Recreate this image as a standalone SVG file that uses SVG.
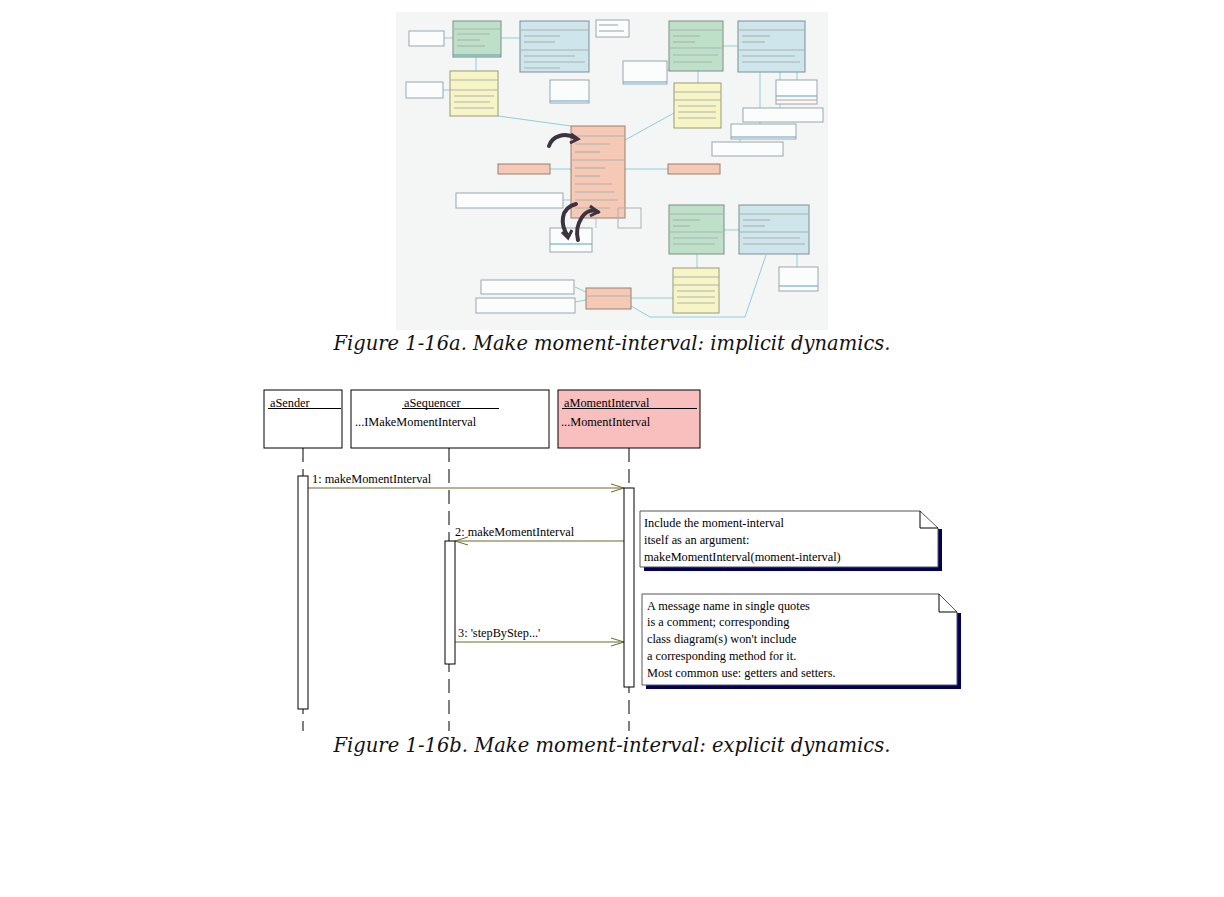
<svg xmlns="http://www.w3.org/2000/svg" width="1224" height="897" viewBox="0 0 1224 897">
<style>
.t{font-family:"Liberation Serif",serif;font-size:12.3px;fill:#000}
.cap{font-family:"DejaVu Serif","Liberation Serif",serif;font-style:italic;font-size:20px;fill:#111}
.obj{fill:#fff;stroke:#000;stroke-width:1}
.life{stroke:#000;stroke-width:1;stroke-dasharray:14,7}
.act{fill:#fff;stroke:#000;stroke-width:1}
.msg{stroke:#6b6b2a;stroke-width:1;fill:none}
.note{fill:#fff;stroke:#555;stroke-width:1}
.shadow{fill:#00005a}
.g{fill:#bfe0c8;stroke:#7a8f88}
.b{fill:#cfe5ec;stroke:#7a8f98}
.y{fill:#f7f5c6;stroke:#9a9a78}
.p{fill:#f5c9b5;stroke:#9a8070}
.n{fill:#fbfcfc;stroke:#9aa8ae}
.row{stroke:#a9b4b0;stroke-width:1.2}
.cl{stroke:#8fcfd6;stroke-width:1;fill:none}
</style>
<defs>
<marker id="open" markerWidth="14" markerHeight="10" refX="13" refY="5" orient="auto" markerUnits="userSpaceOnUse">
<path d="M0,1 L13,5 L0,9" fill="none" stroke="#6b6b2a" stroke-width="1"/>
</marker>
</defs>
<rect width="1224" height="897" fill="#fff"/>

<g id="fig-a">
<rect x="396" y="12" width="432" height="318" fill="#f4f5f5"/>
<g class="cl">
<line x1="501" y1="38" x2="520" y2="38"/>
<line x1="476" y1="57" x2="476" y2="71"/>
<line x1="498" y1="116" x2="571" y2="126"/>
<line x1="625" y1="140" x2="674" y2="113"/>
<line x1="550" y1="169" x2="571" y2="169"/>
<line x1="625" y1="169" x2="668" y2="169"/>
<line x1="698" y1="71" x2="698" y2="83"/>
<line x1="723" y1="46" x2="738" y2="46"/>
<line x1="797" y1="72" x2="797" y2="80"/>
<line x1="596" y1="218" x2="596" y2="228"/>
<line x1="724" y1="230" x2="739" y2="230"/>
<line x1="697" y1="254" x2="697" y2="268"/>
<line x1="797" y1="254" x2="797" y2="267"/>
<line x1="631" y1="298" x2="673" y2="298"/>
<polyline points="631,306 650,317 745,317 766,255"/>
<line x1="575" y1="287" x2="586" y2="292"/>
<line x1="575" y1="302" x2="586" y2="300"/>
<line x1="444" y1="38" x2="453" y2="38"/>
<line x1="443" y1="90" x2="450" y2="90"/>
<line x1="563" y1="200" x2="571" y2="200"/>
<line x1="667" y1="70" x2="669" y2="70"/>
<line x1="780" y1="72" x2="780" y2="108"/>
<line x1="760" y1="72" x2="760" y2="124"/>
<line x1="740" y1="128" x2="740" y2="142"/>
</g>
<rect class="n" x="409" y="31" width="35" height="15"/>
<rect class="g" x="453" y="21" width="48" height="36"/>
<line class="row" x1="453" y1="29" x2="501" y2="29"/>
<line class="row" x1="457" y1="34" x2="490" y2="34"/><line class="row" x1="457" y1="40" x2="480" y2="40"/><line class="row" x1="457" y1="46" x2="485" y2="46"/><line x1="453" y1="55" x2="501" y2="55" stroke="#5aa0c8"/>
<rect class="b" x="520" y="21" width="69" height="51"/>
<line class="row" x1="520" y1="30" x2="589" y2="30"/><line class="row" x1="520" y1="50" x2="589" y2="50"/>
<line class="row" x1="524" y1="36" x2="560" y2="36"/><line class="row" x1="524" y1="42" x2="555" y2="42"/><line class="row" x1="524" y1="56" x2="575" y2="56"/><line class="row" x1="524" y1="62" x2="585" y2="62"/><line class="row" x1="524" y1="68" x2="560" y2="68"/>
<rect class="n" x="596" y="20" width="33" height="17"/>
<line class="row" x1="599" y1="25" x2="618" y2="25"/><line class="row" x1="599" y1="31" x2="624" y2="31"/>
<rect class="n" x="406" y="82" width="37" height="16"/>
<rect class="y" x="450" y="71" width="48" height="45"/>
<line class="row" x1="450" y1="80" x2="498" y2="80"/><line class="row" x1="450" y1="90" x2="498" y2="90"/>
<line class="row" x1="454" y1="96" x2="494" y2="96"/><line class="row" x1="454" y1="102" x2="490" y2="102"/><line class="row" x1="454" y1="108" x2="494" y2="108"/>
<rect class="n" x="550" y="80" width="39" height="23"/>
<line x1="550" y1="101" x2="589" y2="101" stroke="#5aa0c8"/>
<rect class="g" x="669" y="21" width="54" height="50"/>
<line class="row" x1="669" y1="30" x2="723" y2="30"/><line class="row" x1="669" y1="48" x2="723" y2="48"/>
<line class="row" x1="673" y1="36" x2="700" y2="36"/><line class="row" x1="673" y1="42" x2="695" y2="42"/><line class="row" x1="673" y1="55" x2="718" y2="55"/><line class="row" x1="673" y1="62" x2="712" y2="62"/>
<rect class="b" x="738" y="21" width="67" height="51"/>
<line class="row" x1="738" y1="30" x2="805" y2="30"/><line class="row" x1="738" y1="50" x2="805" y2="50"/>
<line class="row" x1="742" y1="36" x2="770" y2="36"/><line class="row" x1="742" y1="42" x2="765" y2="42"/><line class="row" x1="742" y1="56" x2="795" y2="56"/><line class="row" x1="742" y1="62" x2="800" y2="62"/>
<rect class="n" x="623" y="61" width="44" height="23"/>
<line x1="623" y1="82" x2="667" y2="82" stroke="#5aa0c8"/>
<rect class="y" x="674" y="83" width="47" height="45"/>
<line class="row" x1="674" y1="92" x2="721" y2="92"/><line class="row" x1="674" y1="100" x2="721" y2="100"/>
<line class="row" x1="678" y1="106" x2="716" y2="106"/><line class="row" x1="678" y1="112" x2="716" y2="112"/><line class="row" x1="678" y1="118" x2="716" y2="118"/>
<rect class="n" x="776" y="80" width="41" height="24"/>
<line x1="776" y1="96" x2="817" y2="96" stroke="#5aa0c8"/><line x1="776" y1="100" x2="817" y2="100" stroke="#d09090"/>
<rect class="n" x="743" y="108" width="80" height="14"/>
<rect class="n" x="731" y="124" width="65" height="15"/>
<line x1="731" y1="137" x2="796" y2="137" stroke="#5aa0c8"/>
<rect class="n" x="712" y="142" width="71" height="14"/>
<rect class="p" x="571" y="126" width="54" height="92"/>
<line class="row" x1="571" y1="136" x2="625" y2="136"/><line class="row" x1="571" y1="160" x2="625" y2="160"/>
<line class="row" x1="575" y1="144" x2="610" y2="144"/><line class="row" x1="575" y1="152" x2="600" y2="152"/><line class="row" x1="575" y1="168" x2="605" y2="168"/><line class="row" x1="575" y1="176" x2="600" y2="176"/><line class="row" x1="575" y1="184" x2="612" y2="184"/><line class="row" x1="575" y1="192" x2="615" y2="192"/><line class="row" x1="575" y1="200" x2="618" y2="200"/><line class="row" x1="575" y1="208" x2="610" y2="208"/>
<rect class="p" x="498" y="164" width="52" height="10"/>
<rect class="p" x="668" y="164" width="52" height="10"/>
<rect class="n" x="456" y="193" width="107" height="15"/>
<rect x="618" y="208" width="23" height="20" fill="none" stroke="#aab4b4"/>
<rect class="n" x="550" y="228" width="42" height="24"/>
<line x1="550" y1="244" x2="592" y2="244" stroke="#5aa0c8"/>
<rect class="g" x="669" y="205" width="55" height="49"/>
<line class="row" x1="669" y1="214" x2="724" y2="214"/><line class="row" x1="669" y1="232" x2="724" y2="232"/>
<line class="row" x1="673" y1="220" x2="700" y2="220"/><line class="row" x1="673" y1="226" x2="690" y2="226"/><line class="row" x1="673" y1="238" x2="718" y2="238"/><line class="row" x1="673" y1="244" x2="715" y2="244"/>
<rect class="b" x="739" y="205" width="70" height="49"/>
<line class="row" x1="739" y1="214" x2="809" y2="214"/><line class="row" x1="739" y1="232" x2="809" y2="232"/>
<line class="row" x1="743" y1="220" x2="770" y2="220"/><line class="row" x1="743" y1="226" x2="765" y2="226"/><line class="row" x1="743" y1="238" x2="800" y2="238"/><line class="row" x1="743" y1="244" x2="805" y2="244"/>
<rect class="y" x="673" y="268" width="46" height="45"/>
<line class="row" x1="673" y1="277" x2="719" y2="277"/><line class="row" x1="673" y1="285" x2="719" y2="285"/>
<line class="row" x1="677" y1="291" x2="715" y2="291"/><line class="row" x1="677" y1="297" x2="715" y2="297"/><line class="row" x1="677" y1="303" x2="715" y2="303"/>
<rect class="n" x="779" y="267" width="39" height="24"/>
<line x1="779" y1="286" x2="818" y2="286" stroke="#5aa0c8"/>
<rect class="n" x="481" y="280" width="93" height="14"/>
<rect class="n" x="476" y="298" width="99" height="15"/>
<rect class="p" x="586" y="288" width="45" height="21"/>
<line class="row" x1="586" y1="296" x2="631" y2="296"/>
<path d="M549,146 C552,136 565,132 575,138" fill="none" stroke="#3d3340" stroke-width="4" stroke-linecap="round"/>
<path d="M571,134 L578,139 L570,143" fill="none" stroke="#3d3340" stroke-width="3"/>
<path d="M576,204 C560,208 560,225 568,236" fill="none" stroke="#3d3340" stroke-width="4" stroke-linecap="round"/>
<path d="M562,232 L568,238 L572,230" fill="none" stroke="#3d3340" stroke-width="3"/>
<path d="M578,240 C574,225 585,205 598,212" fill="none" stroke="#3d3340" stroke-width="4" stroke-linecap="round"/>
<path d="M590,206 L598,212 L590,216" fill="none" stroke="#3d3340" stroke-width="3"/>
</g>

<text class="cap" x="612" y="350" text-anchor="middle" textLength="557" lengthAdjust="spacingAndGlyphs">Figure 1-16a. Make moment-interval: implicit dynamics.</text>

<g id="connectors">
<line class="life" x1="303" y1="448" x2="303" y2="731"/>
<line class="life" x1="449" y1="448" x2="449" y2="731"/>
<line class="life" x1="629" y1="448" x2="629" y2="731"/>
<line class="msg" x1="308" y1="488" x2="624" y2="488" marker-end="url(#open)"/>
<line class="msg" x1="624" y1="541" x2="455" y2="541" marker-end="url(#open)"/>
<line class="msg" x1="455" y1="642" x2="624" y2="642" marker-end="url(#open)"/>
<text class="t" x="312" y="483">1: makeMomentInterval</text>
<text class="t" x="455" y="536">2: makeMomentInterval</text>
<text class="t" x="458" y="637">3: 'stepByStep...'</text>
</g>

<g id="aSender">
<rect class="obj" x="264" y="390" width="78" height="58"/>
<text class="t" x="270" y="407">aSender</text>
<line x1="268" y1="408.5" x2="341" y2="408.5" stroke="#000"/>
<rect class="act" x="298" y="476" width="10" height="233"/>
</g>
<g id="aSequencer">
<rect class="obj" x="351" y="390" width="198" height="58"/>
<text class="t" x="404" y="407">aSequencer</text>
<line x1="402" y1="408.5" x2="499" y2="408.5" stroke="#000"/>
<text class="t" x="355" y="426">...IMakeMomentInterval</text>
<rect class="act" x="445" y="541" width="10" height="123"/>
</g>
<g id="aMomentInterval">
<rect x="558" y="390" width="142" height="58" fill="#f9bfbf" stroke="#000"/>
<text class="t" x="564" y="407">aMomentInterval</text>
<line x1="562" y1="408.5" x2="697" y2="408.5" stroke="#000"/>
<text class="t" x="561" y="426">...MomentInterval</text>
<rect class="act" x="624" y="488" width="10" height="199"/>
</g>

<g id="note1">
<path class="shadow" d="M938,529 H942 V571 H644 V567 H938 Z"/>
<path class="note" d="M640,511 H920 L938,528 V567 H640 Z"/>
<path d="M920,511 V528 H938" fill="none" stroke="#000"/>
<text class="t" x="644" y="527">Include the moment-interval</text>
<text class="t" x="644" y="544">itself as an argument:</text>
<text class="t" x="644" y="561">makeMomentInterval(moment-interval)</text>
</g>
<g id="note2">
<path class="shadow" d="M957,613 H961 V689 H646 V685 H957 Z"/>
<path class="note" d="M642,594 H939 L957,612 V685 H642 Z"/>
<path d="M939,594 V612 H957" fill="none" stroke="#000"/>
<text class="t" x="647" y="610">A message name in single quotes</text>
<text class="t" x="647" y="626">is a comment; corresponding</text>
<text class="t" x="647" y="643">class diagram(s) won't include</text>
<text class="t" x="647" y="660">a corresponding method for it.</text>
<text class="t" x="647" y="677">Most common use: getters and setters.</text>
</g>

<text class="cap" x="612" y="752" text-anchor="middle" textLength="557" lengthAdjust="spacingAndGlyphs">Figure 1-16b. Make moment-interval: explicit dynamics.</text>
</svg>
